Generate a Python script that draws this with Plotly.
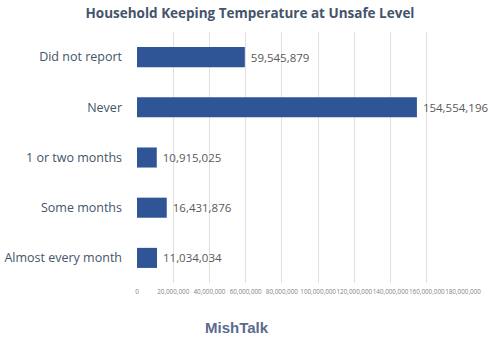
import plotly.graph_objects as go

categories = ["Did not report", "Never", "1 or two months", "Some months", "Almost every month"]
values = [59545879, 154554196, 10915025, 16431876, 11034034]
tick_vals = [0, 20000000, 40000000, 60000000, 80000000, 100000000, 120000000, 140000000, 160000000, 180000000]
tick_text = ["0"] + [f"{v:,}" for v in tick_vals[1:]]
value_labels = ["\u00a0" + f"{v:,}" for v in values]

fig = go.Figure(go.Bar(
    x=values, y=categories, orientation="h",
    marker=dict(color="#2F5597", line=dict(width=0)),
    text=value_labels, textposition="outside",
    textfont=dict(family="Open Sans", size=11.5, color="#595959"),
    cliponaxis=False, width=0.4,
))

fig.update_layout(
    width=500, height=339,
    margin=dict(l=137, r=37, t=32, b=56, autoexpand=False),
    paper_bgcolor="white", plot_bgcolor="white",
    showlegend=False,
    title=dict(text="<b>Household Keeping Temperature at Unsafe Level</b>",
               x=0.5, xanchor="center", y=0.962, yanchor="middle",
               font=dict(family="Open Sans", size=13.5, color="#44546A")),
    xaxis=dict(range=[0, 180000000], tickvals=tick_vals, ticktext=tick_text,
               tickangle=0, automargin=False,
               tickfont=dict(family="Open Sans", size=6.3, color="#7F7F7F"),
               showgrid=True, gridcolor="#E0E0E0", gridwidth=1,
               zeroline=False, showline=False, ticks="", ticklabelstandoff=4, fixedrange=True),
    yaxis=dict(categoryorder="array", categoryarray=categories, autorange="reversed",
               automargin=False,
               tickfont=dict(family="Open Sans", size=12.5, color="#44546A"),
               showgrid=False, zeroline=False, showline=False, ticks="", ticklabelstandoff=14),
    annotations=[dict(text="<b>MishTalk</b>", xref="paper", yref="paper",
                      x=(237 - 137) / 326, y=(283 - 327) / 251,
                      xanchor="center", yanchor="middle", showarrow=False,
                      font=dict(family="Liberation Sans", size=15, color="#5B6B8E"))],
)

fig.write_html("out.html")
